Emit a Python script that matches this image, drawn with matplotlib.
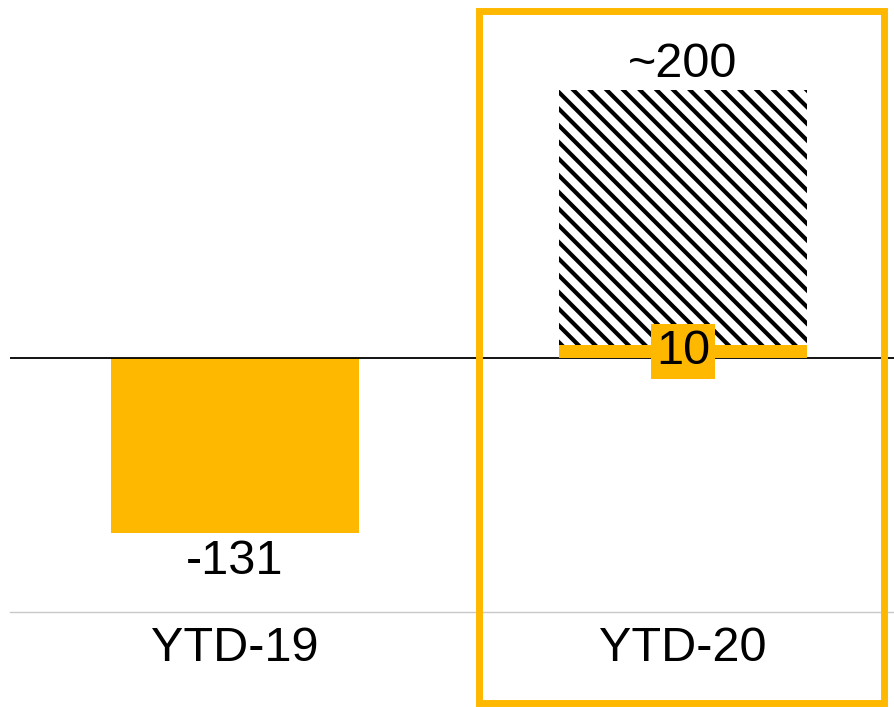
import matplotlib.pyplot as plt
import matplotlib.patches as mpatches
import numpy as np

plt.rcParams['font.family'] = ['Liberation Sans', 'DejaVu Sans']
plt.rcParams['hatch.linewidth'] = 3.0

# Values
categories = ['YTD-19', 'YTD-20']
actual = [-131, 10]
outlook = [0, 190]          # hatched part stacked on top of the actual value
actual_labels = ['-131', '10']
outlook_label = '~200'

orange = '#FFB800'

fig = plt.figure(figsize=(8.94, 7.07), dpi=100)
ax = fig.add_axes([10 / 894, 95 / 707, 884 / 894, 612 / 707])

x = np.arange(len(categories))
width = 0.554

ax.bar(x[0], actual[0], width=width, color=orange, linewidth=0)
ax.bar(x[1], actual[1], width=width, color=orange, linewidth=0, zorder=3)
ax.bar(x[1], outlook[1], bottom=actual[1], width=width, color='white',
       edgecolor='black', hatch='\\\\', linewidth=0, zorder=2)

ax.axhline(0, color='black', linewidth=1.3, zorder=1)

# value labels
ax.annotate(actual_labels[0], (x[0], actual[0]), xytext=(0, -4),
            textcoords='offset points', ha='center', va='top', fontsize=35)
ax.annotate(outlook_label, (x[1], actual[1] + outlook[1]), xytext=(0, 2),
            textcoords='offset points', ha='center', va='bottom', fontsize=35)
ax.text(x[1], actual[1] / 2, actual_labels[1], ha='center', va='center',
        fontsize=35, zorder=4,
        bbox=dict(boxstyle='square,pad=0.1', fc=orange, ec='none'))

ax.set_xlim(-0.502, 1.471)
ax.set_ylim(-189.6, 267.2)
ax.set_xticks(x)
ax.set_xticklabels(categories, fontsize=35)
ax.tick_params(axis='x', length=0, pad=10)
ax.set_yticks([])
for side in ['top', 'left', 'right']:
    ax.spines[side].set_visible(False)
ax.spines['bottom'].set_color('#c8c8c8')
ax.spines['bottom'].set_linewidth(1.0)

# highlight frame around the current year
frame = mpatches.Rectangle((479 / 894, 4 / 707), 405 / 894, 692 / 707,
                           transform=fig.transFigure, fill=False,
                           edgecolor=orange, linewidth=5, clip_on=False)
fig.add_artist(frame)

fig.savefig('out.png', dpi=100)
